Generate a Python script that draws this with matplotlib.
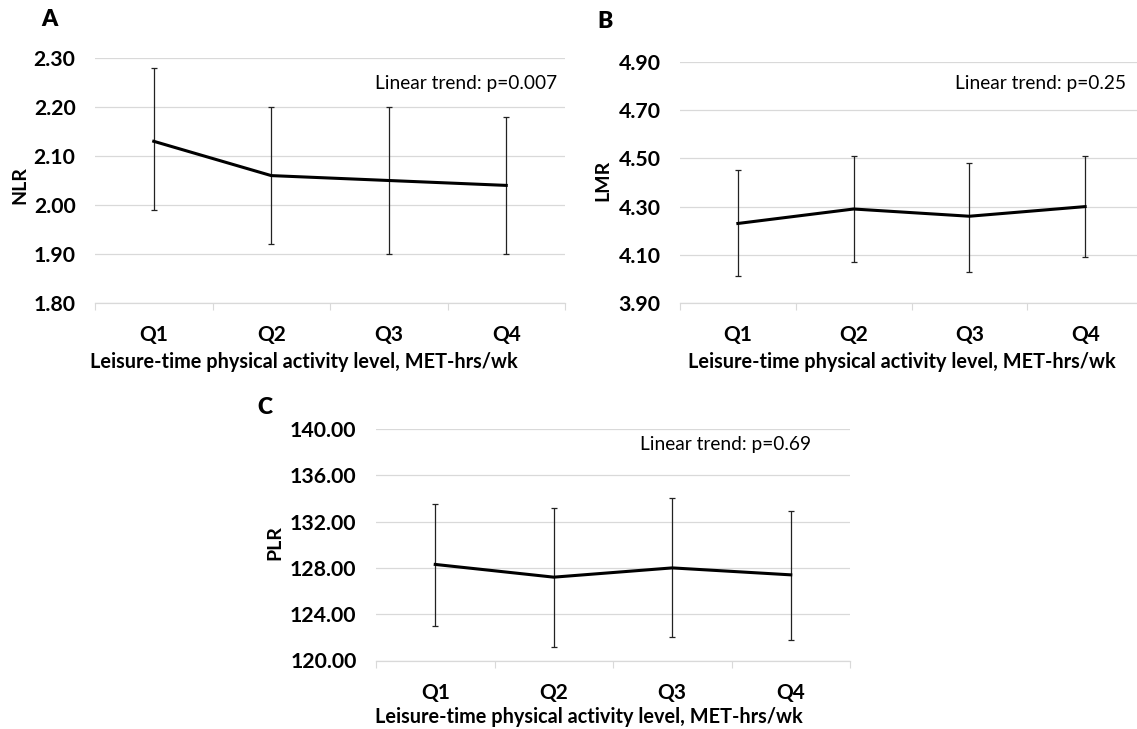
import matplotlib
matplotlib.use("Agg")
import matplotlib.pyplot as plt
from matplotlib.ticker import FixedLocator, FormatStrFormatter

plt.rcParams['font.family'] = ['Lato', 'DejaVu Sans']

categories = ["Q1", "Q2", "Q3", "Q4"]

nlr_mean = [2.13, 2.06, 2.05, 2.04]
nlr_upper = [2.28, 2.20, 2.20, 2.18]
nlr_lower = [1.99, 1.92, 1.90, 1.90]

lmr_mean = [4.23, 4.29, 4.26, 4.30]
lmr_upper = [4.45, 4.51, 4.48, 4.51]
lmr_lower = [4.01, 4.07, 4.03, 4.09]

plr_mean = [128.3, 127.2, 128.0, 127.4]
plr_upper = [133.5, 133.2, 134.0, 132.9]
plr_lower = [123.0, 121.2, 122.0, 121.8]

nlr_ticks = [1.80, 1.90, 2.00, 2.10, 2.20, 2.30]
lmr_ticks = [3.90, 4.10, 4.30, 4.50, 4.70, 4.90]
plr_ticks = [120.0, 124.0, 128.0, 132.0, 136.0, 140.0]

xlabel = "Leisure-time physical activity level, MET-hrs/wk"
GRID = "#d9d9d9"

W, H = 1137, 729
fig = plt.figure(figsize=(W / 100, H / 100), dpi=100)


def make_axes(l, r, t, b):
    return fig.add_axes([l / W, 1 - b / H, (r - l) / W, (b - t) / H])


def panel(ax, mean, upper, lower, yticks, ylab, trend, letter,
          trend_xy, letter_xy, xlab_pos, ylab_pos):
    x = list(range(len(categories)))
    yerr = [[m - lo for m, lo in zip(mean, lower)], [u - m for m, u in zip(mean, upper)]]
    ax.errorbar(x, mean, yerr=yerr, color="black", lw=2.2, elinewidth=0.9,
                ecolor="#222222", capsize=2.2, capthick=0.9, zorder=3)
    ax.set_ylim(yticks[0], yticks[-1])
    ax.set_xlim(-0.5, len(categories) - 0.5)
    ax.yaxis.set_major_locator(FixedLocator(yticks))
    ax.yaxis.set_major_formatter(FormatStrFormatter("%.2f"))
    ax.set_xticks(x)
    ax.set_xticklabels(categories)
    ax.set_xticks([i - 0.5 for i in range(len(categories) + 1)], minor=True)
    ax.tick_params(axis="x", which="major", length=0, pad=16, labelsize=15)
    ax.tick_params(axis="x", which="minor", length=5, color=GRID, width=0.8)
    ax.tick_params(axis="y", length=0, pad=14, labelsize=15.3)
    for lab in ax.get_xticklabels() + ax.get_yticklabels():
        lab.set_fontweight("bold")
    ax.grid(axis="y", color=GRID, lw=0.9)
    ax.set_axisbelow(True)
    for s in ["left", "top", "right"]:
        ax.spines[s].set_visible(False)
    ax.spines["bottom"].set_color(GRID)
    ax.spines["bottom"].set_linewidth(0.9)
    ax.set_ylabel(ylab, fontsize=14, fontweight="bold")
    ax.yaxis.set_label_coords(*ylab_pos)
    ax.yaxis.label.set_verticalalignment("center")
    ax.set_xlabel(xlabel, fontsize=14.3, fontweight="bold")
    ax.xaxis.set_label_coords(*xlab_pos)
    ax.xaxis.label.set_verticalalignment("center")
    fig.text(trend_xy[0] / W, 1 - trend_xy[1] / H, trend, ha="right", va="center", fontsize=13.8)
    fig.text(letter_xy[0] / W, 1 - letter_xy[1] / H, letter, ha="left", va="center",
             fontsize=16.5, fontweight="heavy")


axA = make_axes(95, 565, 58, 303)
panel(axA, nlr_mean, nlr_upper, nlr_lower, nlr_ticks, "NLR", "Linear trend: p=0.007", "A",
      (557, 83), (41, 20), (0.4447, -0.2408), (-0.16, 0.48))

axB = make_axes(680, 1143, 62, 303)
panel(axB, lmr_mean, lmr_upper, lmr_lower, lmr_ticks, "LMR", "Linear trend: p=0.25", "B",
      (1126, 83), (597, 21), (0.4795, -0.2448), (-0.166, 0.51))

axC = make_axes(376, 850, 429, 660.5)
panel(axC, plr_mean, plr_upper, plr_lower, plr_ticks, "PLR", "Linear trend: p=0.69", "C",
      (811, 445), (257, 408), (0.4494, -0.244), (-0.213, 0.51))

fig.savefig("out.png", dpi=100)
